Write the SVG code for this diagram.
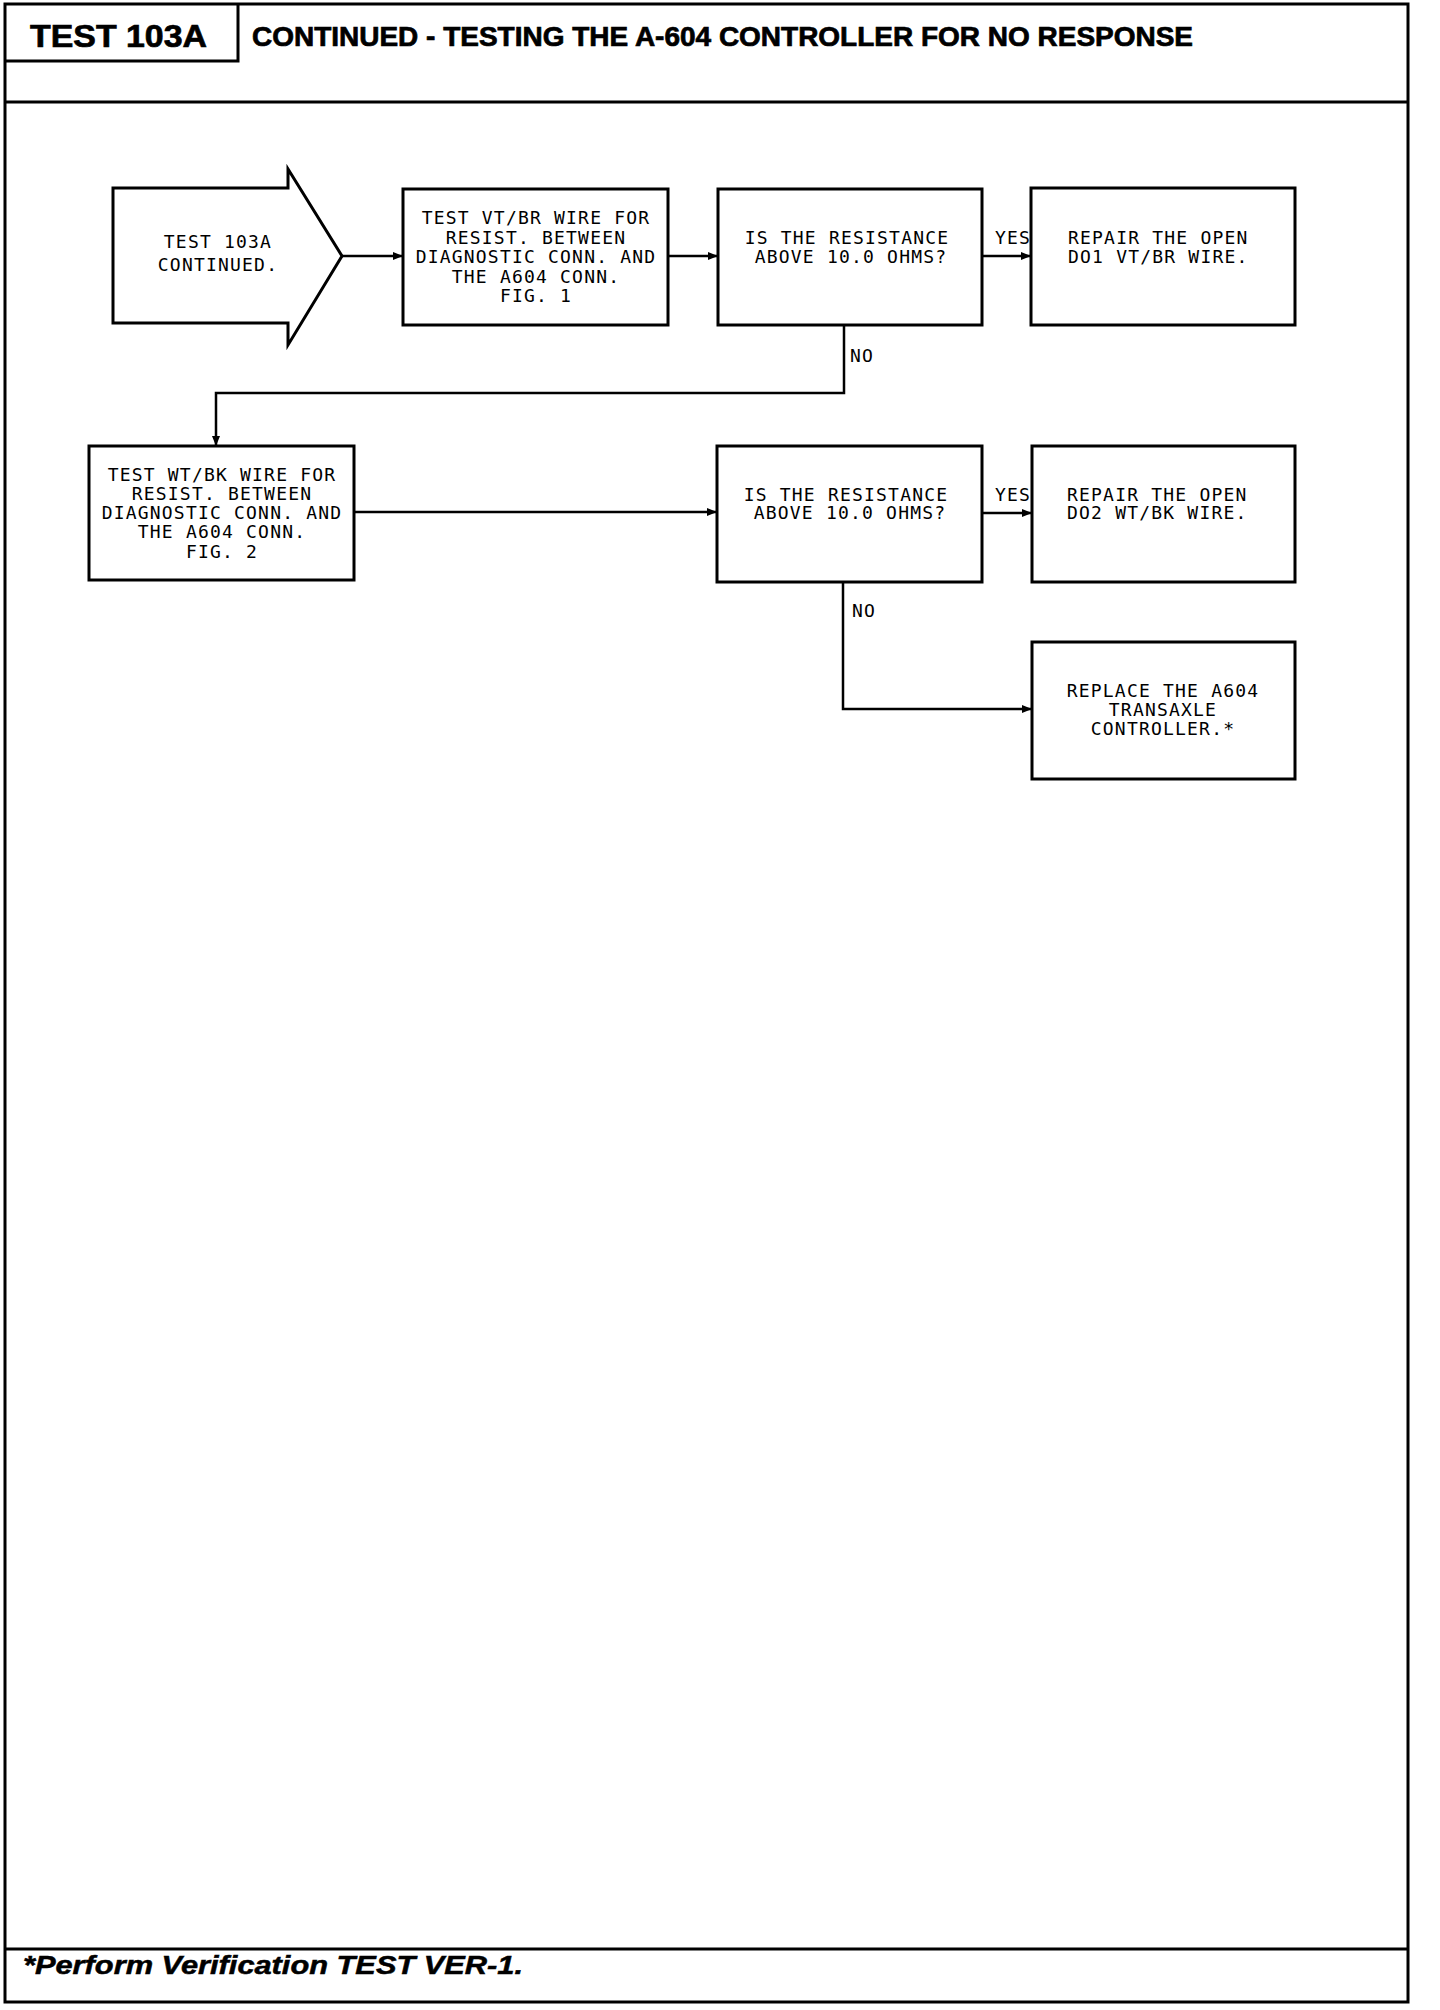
<svg xmlns="http://www.w3.org/2000/svg" width="1440" height="2010" viewBox="0 0 1440 2010">
<style>
.frame{fill:none;stroke:#000;stroke-width:3}
.box{fill:#fff;stroke:#000;stroke-width:3}
.conn{fill:none;stroke:#000;stroke-width:2.5}
.t{font-family:"DejaVu Sans Mono","Liberation Mono",monospace;font-size:18px;letter-spacing:1.2px;fill:#000}
.c{text-anchor:middle}
.hdr{font-family:"Liberation Sans",Arial,sans-serif;font-weight:bold;fill:#000;stroke:#000;stroke-width:0.7}
.ftr{font-family:"Liberation Sans",Arial,sans-serif;font-weight:bold;font-style:italic;font-size:25px;fill:#000;stroke:#000;stroke-width:0.5}
</style>
<defs>
<marker id="ah" markerUnits="userSpaceOnUse" markerWidth="10" markerHeight="8" refX="10" refY="4" orient="auto">
<path d="M0,0 L10,4 L0,8 z" fill="#000"/>
</marker>
</defs>
<rect width="1440" height="2010" fill="#fff"/>
<g id="frame">
<rect class="frame" x="5" y="4" width="1403" height="1998"/>
<polyline class="frame" points="5,61 238,61 238,4"/>
<line class="frame" x1="5" y1="102" x2="1408" y2="102"/>
<line class="frame" x1="5" y1="1949" x2="1408" y2="1949"/>
<text class="hdr" x="30" y="47" font-size="32" textLength="177" lengthAdjust="spacingAndGlyphs">TEST 103A</text>
<text class="hdr" x="252" y="46" font-size="27" textLength="941" lengthAdjust="spacingAndGlyphs">CONTINUED - TESTING THE A-604 CONTROLLER FOR NO RESPONSE</text>
<text class="ftr" x="23" y="1974" textLength="500" lengthAdjust="spacingAndGlyphs">*Perform Verification TEST VER-1.</text>
</g>
<g id="connectors">
<line class="conn" x1="342" y1="256" x2="403" y2="256" marker-end="url(#ah)"/>
<line class="conn" x1="668" y1="256" x2="718" y2="256" marker-end="url(#ah)"/>
<line class="conn" x1="982" y1="256" x2="1031" y2="256" marker-end="url(#ah)"/>
<polyline class="conn" points="844,325 844,393 216,393 216,446" marker-end="url(#ah)"/>
<line class="conn" x1="354" y1="512" x2="717" y2="512" marker-end="url(#ah)"/>
<line class="conn" x1="982" y1="513" x2="1032" y2="513" marker-end="url(#ah)"/>
<polyline class="conn" points="843,582 843,709 1032,709" marker-end="url(#ah)"/>
<text class="t" x="995" y="244">YES</text>
<text class="t" x="850" y="362">NO</text>
<text class="t" x="995" y="501">YES</text>
<text class="t" x="852" y="617">NO</text>
</g>
<g id="start">
<polygon class="box" points="113,188 288,188 288,169 342,256 288,345 288,323 113,323"/>
<text class="t c" x="218" y="248">TEST 103A</text>
<text class="t c" x="218" y="271">CONTINUED.</text>
</g>
<g id="test-vtbr">
<rect class="box" x="403" y="189" width="265" height="136"/>
<text class="t c" x="536" y="224">TEST VT/BR WIRE FOR</text>
<text class="t c" x="536" y="244">RESIST. BETWEEN</text>
<text class="t c" x="536" y="263">DIAGNOSTIC CONN. AND</text>
<text class="t c" x="536" y="283">THE A604 CONN.</text>
<text class="t c" x="536" y="302">FIG. 1</text>
</g>
<g id="decision-1">
<rect class="box" x="718" y="189" width="264" height="136"/>
<text class="t c" x="847" y="244">IS THE RESISTANCE</text>
<text class="t c" x="851" y="263">ABOVE 10.0 OHMS?</text>
</g>
<g id="repair-1">
<rect class="box" x="1031" y="188" width="264" height="137"/>
<text class="t" x="1068" y="244">REPAIR THE OPEN</text>
<text class="t" x="1068" y="263">DO1 VT/BR WIRE.</text>
</g>
<g id="test-wtbk">
<rect class="box" x="89" y="446" width="265" height="134"/>
<text class="t c" x="222" y="481">TEST WT/BK WIRE FOR</text>
<text class="t c" x="222" y="500">RESIST. BETWEEN</text>
<text class="t c" x="222" y="519">DIAGNOSTIC CONN. AND</text>
<text class="t c" x="222" y="538">THE A604 CONN.</text>
<text class="t c" x="222" y="558">FIG. 2</text>
</g>
<g id="decision-2">
<rect class="box" x="717" y="446" width="265" height="136"/>
<text class="t c" x="846" y="501">IS THE RESISTANCE</text>
<text class="t c" x="850" y="519">ABOVE 10.0 OHMS?</text>
</g>
<g id="repair-2">
<rect class="box" x="1032" y="446" width="263" height="136"/>
<text class="t" x="1067" y="501">REPAIR THE OPEN</text>
<text class="t" x="1067" y="519">DO2 WT/BK WIRE.</text>
</g>
<g id="replace">
<rect class="box" x="1032" y="642" width="263" height="137"/>
<text class="t c" x="1163" y="697">REPLACE THE A604</text>
<text class="t c" x="1163" y="716">TRANSAXLE</text>
<text class="t c" x="1163" y="735">CONTROLLER.*</text>
</g>
</svg>
